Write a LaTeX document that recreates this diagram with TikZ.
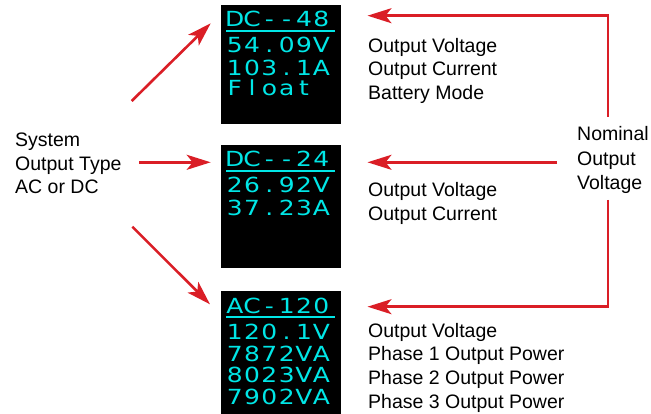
\documentclass[tikz,border=0pt]{standalone}
\usepackage{fontspec}
\setmainfont{Liberation Sans}
\newfontfamily\oledfont[FakeStretch=1.2]{DejaVu Sans}
\usetikzlibrary{arrows.meta}
\definecolor{arrowred}{RGB}{218,30,38}
\definecolor{oledcyan}{RGB}{0,230,230}
\newcommand\oledtext[1]{\oledA#1\relax}
\def\oledA#1{\ifx#1\relax\else\makebox[17.3pt][c]{#1}\expandafter\oledA\fi}
\begin{document}
\begin{tikzpicture}[x=1pt,y=-1pt,
  screen/.style={fill=black, draw=none, inner sep=0, outer sep=0, anchor=north west, minimum width=120pt},
  oled/.style={inner sep=0, anchor=base west, text=oledcyan, font=\oledfont\fontsize{20.8}{24}\selectfont},
  uline/.style={draw=oledcyan, line width=1.5pt},
  txt/.style={inner sep=0, anchor=base west, align=left, font=\fontsize{19.5}{23.8}\selectfont},
  redarrow/.style={draw=arrowred, line width=2.6pt, line join=miter, -{Stealth[length=24pt,width=15pt,inset=6pt]}}]
\useasboundingbox (0,0) rectangle (651,414);

% screens
\node[screen, minimum height=119pt] (scr1) at (221,5) {};
\node[screen, minimum height=123pt] (scr2) at (221,145) {};
\node[screen, minimum height=123pt] (scr3) at (221,291) {};

% screen 1
\node[oled] (s1a) at (226,27) {\oledtext{DC--48}};
\draw[uline] (226,31) -- (335,31);
\node[oled] (s1b) at (226,53) {\oledtext{54.09V}};
\node[oled] (s1c) at (226,75.5) {\oledtext{103.1A}};
\node[oled] (s1d) at (226,96) {\oledtext{Float}};

% screen 2
\node[oled] (s2a) at (226,167) {\oledtext{DC--24}};
\draw[uline] (226,171) -- (335,171);
\node[oled] (s2b) at (226,193) {\oledtext{26.92V}};
\node[oled] (s2c) at (226,215.5) {\oledtext{37.23A}};

% screen 3
\node[oled] (s3a) at (226,313) {\oledtext{AC-120}};
\draw[uline] (226,317) -- (335,317);
\node[oled] (s3b) at (226,339) {\oledtext{120.1V}};
\node[oled] (s3c) at (226,361) {\oledtext{7872VA}};
\node[oled] (s3d) at (226,382.5) {\oledtext{8023VA}};
\node[oled] (s3e) at (226,404) {\oledtext{7902VA}};

% labels (anchor = baseline of last line)
\node[txt, font=\fontsize{19.5}{23.4}\selectfont] (systype) at (15,193.5) {System\\Output Type\\AC or DC};
\node[txt, font=\fontsize{19.5}{24.8}\selectfont] (nominal) at (577,190) {Nominal\\Output\\Voltage};
\node[txt] (g1) at (368,99.8) {Output Voltage\\Output Current\\Battery Mode};
\node[txt] (g2) at (368,220.8) {Output Voltage\\Output Current};
\node[txt] (g3) at (368,408.4) {Output Voltage\\Phase 1 Output Power\\Phase 2 Output Power\\Phase 3 Output Power};

% arrow endpoints
\coordinate (l1s) at (131.7,101);
\coordinate (l1e) at (210.7,23.3);
\coordinate (l2s) at (139,162.3);
\coordinate (l2e) at (210.7,162.3);
\coordinate (l3s) at (132.3,226.7);
\coordinate (l3e) at (210,304.3);
\coordinate (nTop) at (608,117);
\coordinate (a1e) at (367.5,15.7);
\coordinate (nMid) at (557,162.3);
\coordinate (a2e) at (367.5,162.3);
\coordinate (nBot) at (608,200);
\coordinate (a3e) at (367.5,306.7);

\draw[redarrow] (l1s) -- (l1e);
\draw[redarrow] (l2s) -- (l2e);
\draw[redarrow] (l3s) -- (l3e);
\draw[redarrow] (nTop) |- (a1e);
\draw[redarrow] (nMid) -- (a2e);
\draw[redarrow] (nBot) |- (a3e);
\end{tikzpicture}
\end{document}
